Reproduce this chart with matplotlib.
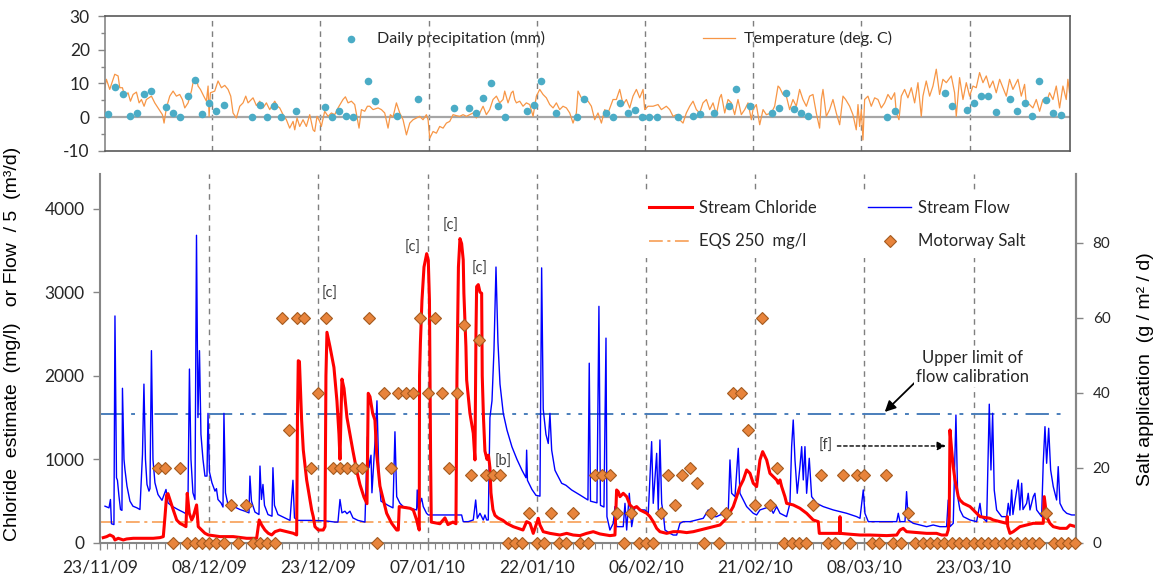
import matplotlib
matplotlib.use('Agg')
import matplotlib.pyplot as plt
import numpy as np

plt.rcParams['axes.unicode_minus'] = False
TICK_FONT = 'Lato'
LABEL_FONT = 'Liberation Sans'

# ---------------- data (x = days since 23/11/2009) ----------------
tick_days = [0, 15, 30, 45, 60, 75, 90, 105, 120]
tick_labels = ['23/11/09', '08/12/09', '23/12/09', '07/01/10', '22/01/10',
               '06/02/10', '21/02/10', '08/03/10', '23/03/10']

precip_day = [0, 1, 2, 3, 4, 5, 6, 8, 9, 10, 11, 12, 13, 14, 15, 16, 20, 21, 22, 23, 24, 26,
              30, 31, 32, 33, 34, 36, 37, 40, 43, 48, 50, 51, 52, 53, 54, 55, 58, 59, 60, 62,
              65, 66, 69, 70, 71, 72, 73, 74, 75, 76, 79, 81, 82, 84, 86, 87, 89, 92, 93, 94,
              95, 96, 97, 108, 109, 116, 117, 119, 120, 121, 122, 123, 125, 126, 127, 128,
              129, 130, 131, 132]
precip_mm = [0.9, 8.8, 6.7, 0.4, 1.2, 6.7, 7.6, 2.9, 1.2, 0.0, 6.1, 11.1, 1.0, 4.1, 1.9, 3.7,
             0.0, 3.6, 0.0, 3.2, 0.0, 1.9, 2.9, 0.0, 1.7, 0.2, 0.0, 10.6, 4.7, 0.2, 5.3, 2.7,
             2.7, 1.1, 5.7, 10.1, 3.4, 0.1, 1.8, 3.7, 10.7, 1.1, 0.1, 5.3, 1.3, 0.1, 4.1, 1.1,
             2.1, 0.1, 0.1, 0.1, 0.1, 0.3, 0.8, 1.2, 3.3, 8.4, 3.4, 1.2, 2.6, 7.1, 2.5, 1.2,
             0.4, 0.0, 1.9, 7.0, 3.3, 2.1, 4.1, 6.1, 6.1, 1.5, 5.3, 1.9, 4.1, 0.4, 10.6, 5.1,
             1.1, 0.5]

temp_day = [0.13, 0.36, 0.82, 1.52, 1.98, 2.21, 2.58, 2.9, 3.36, 3.69, 4.06, 4.52, 4.89, 5.21,
            5.58, 5.9, 6.6, 7.06, 7.66, 8.12, 8.35, 8.67, 9.14, 9.6, 10.06, 10.52, 10.89, 11.22,
            11.68, 12.14, 12.46, 12.83, 13.06, 13.39, 13.85, 14.22, 14.45, 14.59, 14.77, 15.37,
            15.83, 16.3, 16.76, 17.22, 17.59, 17.91, 18.37, 18.84, 19.3, 19.67, 19.99, 20.68,
            21.15, 21.61, 22.07, 22.53, 22.99, 23.69, 24.06, 24.38, 24.84, 25.3, 25.76, 26.23,
            26.46, 26.78, 27.15, 27.61, 28.07, 28.54, 29.0, 29.23, 29.55, 29.92, 30.15, 30.61,
            31.08, 31.54, 32.0, 32.46, 33.15, 33.48, 33.85, 34.31, 34.77, 35.37, 35.7, 36.16,
            36.53, 36.85, 37.31, 38.01, 38.47, 38.93, 39.39, 39.71, 40.08, 40.55,
            41.01, 41.47, 41.94, 42.4, 42.86, 43.32, 43.78, 44.24, 44.71, 44.94, 45.17, 45.63,
            46.09, 46.55, 47.02, 47.48, 47.94, 48.4, 48.86, 49.33, 49.79, 50.25, 50.71, 51.17,
            51.63, 52.1, 52.56, 53.02, 53.48, 53.94, 54.41, 54.87, 55.33, 55.56, 56.02, 56.48,
            56.72, 56.95, 57.18, 57.64, 58.1, 58.56, 59.03, 59.49, 59.95, 60.41, 60.87, 61.33,
            61.8, 62.26, 62.72, 63.18, 63.64, 64.11, 64.57, 65.03, 65.49, 65.72, 66.18, 66.65,
            67.11, 67.57, 68.03, 68.49, 68.96, 69.42, 69.88, 70.57, 71.03, 71.5, 71.96, 72.42,
            72.88, 73.34, 73.81, 74.27, 74.73, 74.96, 75.42, 76.12, 76.81, 77.27, 77.96, 78.43,
            78.89, 79.35, 79.81, 80.27, 80.73, 81.2, 81.66, 82.12, 82.58, 83.04, 83.51, 83.97,
            84.43, 84.89, 85.35, 85.58, 86.05, 86.51, 86.97, 87.43, 87.89, 88.35, 88.82, 89.28,
            89.74, 89.97, 90.43, 90.9, 91.36, 91.82, 92.51, 92.97, 93.44,
            93.66, 94.12, 94.59, 95.05, 95.51, 95.97, 96.43, 96.89, 97.36, 97.82, 98.28, 98.74,
            99.2, 99.44, 99.67, 100.13, 100.59, 101.05, 101.51, 101.98, 102.44, 102.81, 103.36,
            103.82, 104.28, 104.52, 104.75, 104.98, 105.21, 105.44, 105.9, 106.36, 106.83,
            107.29, 107.75, 108.21, 108.67, 109.13, 109.6, 109.83, 110.2, 110.52, 110.98,
            111.44, 111.91, 112.37, 112.83, 113.29, 113.52, 113.98, 114.45, 114.91, 115.37,
            115.83, 116.29, 116.76, 117.45, 117.91, 118.14, 118.6, 119.07, 119.53, 119.99,
            120.45, 120.91, 121.37, 121.84, 122.3, 122.76, 123.22, 123.68, 124.15, 124.61,
            125.07, 125.53, 125.99, 126.69, 127.15, 127.61, 127.84, 128.3, 128.76, 129.23,
            129.69, 130.15, 130.61, 131.07, 131.54, 132.0, 132.46, 132.92, 133.38, 133.61, 133.84]
temp_c = [8.7, 11.2, 8.2, 12.7, 12.2, 8.7, 8.7, 6.2, 7.2, 4.7, 6.7, 7.4, 4.2, 5.2,
          3.2, 5.2, 6.2, 4.2, 2.2, 0.7, -1.8, 2.7, 6.2, 7.7, 6.2, 6.7, 5.2, 2.7,
          4.2, 7.7, 11.2, 11.7, 9.2, 8.2, 6.2, 4.7, 9.2, 0.2, 7.2, 7.7,
          10.7, 8.7, 9.4, 8.2, 6.2, 1.2, -0.3, 3.2, 4.2, 6.2, 4.2, 5.7,
          3.4, 4.7, 2.7, 4.2, 2.2, 4.7, 3.2, 2.7, 0.7, -0.8, -3.3, -1.3,
          -3.8, -0.3, -2.8, -0.8, -2.8, 0.7, -3.8, -4.3, 0.2, -1.3, -2.8, 1.7,
          0.2, 1.2, 0.7, 2.7, 5.2, 6.0, 4.2, 4.7, 3.7, -3.3, 2.2, 1.7,
          3.2, 3.2, 2.2, 2.7, 2.2, 1.2, -3.3, 0.7, 0.0, 4.2,
          1.2, -0.8, -5.3, -1.8, -0.8, -0.3, 0.2, -0.8, 0.7, -0.8, -6.3, -4.3,
          -4.8, -2.8, -3.3, -1.8, -1.3, 0.7, 0.4, 0.2, 0.7, 0.2, 0.7, 1.2,
          -0.3, 1.2, 3.2, 0.7, 2.2, 5.2, 6.2, 4.2, 5.2, 7.7, 4.2, 7.2,
          7.7, 5.2, 4.2, 4.7, 3.2, 4.2, 3.7, 0.2, 6.2, 8.2, 6.7, 5.7,
          3.7, 2.7, 4.2, 2.2, 3.2, 2.7, 1.2, -1.8, 1.2, 7.7, 5.7, 5.2,
          4.7, 3.2, -0.8, 1.2, -1.8, 2.2, 1.2, 5.2, 5.2, 8.2, 3.7, 5.2,
          2.7, 6.2, 8.2, 5.7, 8.2, 2.2, 3.2, 3.2, 3.7, 2.2, 3.2, 2.2,
          0.2, 0.7, -0.8, -1.8, 1.2, 3.2, 4.7, 2.2, 1.2, 4.2, 5.2, 2.2,
          4.2, 0.7, 5.7, 6.7, 1.2, 5.2, 4.2, 0.7, 5.2, 0.7, 2.2, 4.2,
          -0.8, 2.2, 3.7, -2.3, 2.2, 0.7, 1.2, 3.2, 9.2,
          8.7, 6.7, 6.2, 2.2, 5.2, 3.2, 8.2, 5.2, 3.2, 6.2, 6.7, 1.2,
          -3.3, 5.2, 8.2, 0.2, 2.2, 5.2, 1.2, -2.3, 6.2, 5.2, 3.2,
          0.7, -3.8, 3.7, -2.8, 2.2, -6.8, 5.2, 6.2, 3.2, 5.7,
          5.2, 2.7, 4.2, 6.7, 5.2, 7.2, 1.2, -0.8, 6.2, 8.2,
          5.7, 8.7, 4.2, 10.2, 0.2, 6.2, 10.7, 6.2, 9.2, 14.2,
          6.7, 11.2, 10.2, 12.2, 7.2, 0.2, 11.7, 5.2, 10.2, 6.2,
          9.2, 8.7, 13.2, 10.2, 12.2, 8.7, 10.7, 7.2, 11.2, 8.7,
          6.2, 11.2, 8.2, 11.2, 6.2, 9.7, 4.2, 3.7, 2.7, 5.2,
          1.7, 5.2, 4.2, 7.2, 5.2, 9.2, 2.7, 9.2, 5.2, 11.2, 7.2]

flow_day = [0.69, 1.24, 1.44, 1.58, 1.92, 2.06, 2.27, 2.40, 2.61, 2.82, 3.02, 3.09, 3.30, 3.43,
            3.71, 4.12, 4.53, 5.08, 5.49, 5.84, 6.04, 6.25, 6.46, 6.73, 6.87, 7.07, 7.28, 7.55,
            7.97, 8.52, 9.07, 9.34, 9.89, 10.71, 11.40, 11.81, 12.09, 12.29, 12.50, 12.77,
            13.05, 13.26, 13.46, 13.67, 13.87, 14.15, 14.42, 14.70, 14.84, 15.04, 15.38, 15.80,
            16.00, 16.21, 16.62, 16.90, 17.03, 17.24, 17.58, 18.27, 19.23, 19.92, 20.47, 20.60,
            20.81, 21.29, 21.84, 21.98, 22.18, 22.39, 22.60, 23.08, 23.63, 23.76, 23.97, 24.45,
            25.41, 26.10, 26.51, 26.72, 27.20, 28.85, 30.91, 32.28, 32.69, 32.97, 33.24, 33.65,
            33.93, 34.34, 34.75, 35.44, 36.40, 36.74, 36.95, 37.23, 37.36, 37.64, 37.84, 38.05,
            38.32, 38.60, 39.01, 39.56, 40.25, 40.52, 40.76, 41.21, 41.66, 42.58, 43.50, 43.58,
            43.72, 44.19, 44.41, 44.86, 45.10, 49.68, 49.90, 50.59, 51.28, 51.61, 51.83, 52.20,
            52.43, 52.65, 52.88, 53.12, 53.34, 53.57, 53.85, 54.12, 54.40, 54.67, 54.95, 55.40,
            55.91, 56.59, 57.28, 57.97, 58.52, 58.61, 58.72, 59.34, 59.89, 60.44, 60.67, 60.89,
            61.26, 61.58, 61.81, 62.05, 62.50, 62.73, 63.42, 64.01, 64.79, 65.93, 67.03, 67.21,
            67.38, 68.27, 68.54, 68.75, 69.23, 69.51, 69.64, 70.05, 70.51, 70.74, 70.97, 71.88,
            72.12, 72.35, 72.71, 73.04, 73.49, 74.18, 74.86, 75.32, 75.78, 76.00, 76.47, 76.69,
            76.92, 77.16, 77.38, 77.61, 78.30, 78.75, 79.22, 79.67, 80.12, 81.04, 81.96, 82.87,
            83.56, 83.79, 84.71, 85.16, 86.30, 86.54, 86.77, 87.23, 87.68, 87.91, 88.37, 88.83,
            89.29, 89.74, 90.20, 90.66, 92.03, 92.49, 92.95, 93.41, 94.32, 94.78, 95.01, 95.23,
            95.47, 95.78, 96.15, 96.39, 96.61, 96.84, 97.07, 97.43, 97.76, 98.45, 99.35, 100.73,
            101.65, 102.57, 103.94, 104.40, 104.85, 105.08, 105.54, 109.44, 109.66, 109.89,
            110.58, 110.80, 111.03, 111.72, 112.64, 113.56, 114.46, 115.38, 116.30, 116.52,
            116.76, 117.21, 117.58, 117.82, 118.13, 118.59, 119.51, 120.42, 120.88, 121.11,
            121.80, 122.16, 122.39, 122.62, 122.84, 123.17, 123.86, 124.55, 124.77, 125.00,
            125.23, 125.41, 126.14, 126.37, 126.61, 126.79, 127.29, 127.51, 127.75, 128.20,
            128.43, 128.67, 129.35, 129.57, 129.81, 130.04, 130.32, 130.59, 130.95, 131.41,
            131.63, 131.87, 132.32, 132.79, 133.48, 134.07]
flow_val = [440, 420, 520, 230, 220, 2715, 780, 750, 560, 400, 390, 1850, 1000, 880,
            680, 500, 440, 420, 400, 1060, 1900, 1000, 700, 620, 650, 2300, 1000, 720,
            580, 510, 640, 480, 440, 400, 370, 350, 500, 2080, 1000, 600,
            520, 3680, 1500, 2300, 1300, 1000, 800, 800, 1550, 850, 720, 620,
            650, 520, 480, 430, 1550, 600, 460, 440, 400, 380, 360, 800,
            500, 370, 340, 920, 520, 700, 450, 340, 320, 900, 450, 340,
            300, 270, 750, 300, 270, 270, 265, 250, 250, 520, 360, 380,
            350, 380, 300, 270, 250, 1270, 900, 1050, 600, 1000, 1300, 1700,
            800, 500, 480, 450, 420, 1330, 554, 474, 435, 415, 395, 634,
            415, 534, 435, 355, 335, 335, 255, 255, 275, 514, 295, 355,
            315, 275, 335, 275, 275, 1500, 1700, 2300, 3300, 2400, 1900, 1550,
            1350, 1150, 1000, 870, 780, 1110, 750, 640, 570, 560, 3290, 1600,
            1300, 1190, 1550, 1110, 870, 830, 714, 690, 634, 574, 514, 2150,
            500, 480, 2830, 450, 430, 2450, 315, 155, 235, 435, 195, 195,
            474, 155, 594, 195, 435, 395, 395, 355, 1212, 474, 1072, 395,
            1232, 474, 355, 155, 115, 95, 95, 235, 255, 255, 275, 295,
            395, 315, 315, 335, 355, 993, 594, 554, 1132, 594, 514, 435,
            395, 355, 335, 395, 435, 355, 435, 355, 315, 474, 1152, 1471,
            993, 594, 913, 1152, 754, 1152, 594, 1013, 554, 474, 435, 395,
            375, 355, 315, 295, 634, 355, 255, 255, 355, 255,
            255, 614, 275, 235, 215, 195, 215, 195, 195, 514,
            195, 235, 1530, 554, 395, 315, 275, 255, 474, 315,
            255, 1660, 873, 1551, 634, 395, 315, 315, 474, 330,
            634, 340, 754, 395, 714, 400, 474, 594, 395, 554,
            594, 395, 315, 953, 1391, 953, 1372, 873, 674, 514,
            913, 474, 395, 355, 335, 335]

chloride_day = [0.45, 0.92, 1.37, 1.83, 2.06, 2.51, 3.20, 3.67, 4.57, 5.95, 7.32, 8.24, 8.70,
                8.93, 9.16, 9.34, 9.62, 10.07, 10.54, 10.99, 11.44, 11.81, 11.99, 12.27, 12.60,
                12.82, 13.27, 13.50, 13.97, 14.42, 14.88, 15.56, 16.48, 18.31, 20.15, 21.52,
                21.87, 22.21, 22.66, 23.12, 23.59, 24.04, 24.73, 25.65, 26.55, 27.02, 27.13,
                27.24, 27.40, 27.70, 27.93, 28.39, 28.85, 29.08, 29.30, 29.53, 29.99, 30.67,
                30.91, 31.04, 31.18, 31.59, 32.14, 32.55, 32.83, 32.97, 33.10, 33.24, 33.52,
                33.93, 34.34, 34.75, 35.30, 35.71, 36.26, 36.68, 36.85, 37.09, 37.46, 37.77,
                38.01, 38.46, 39.38, 40.07, 40.76, 40.98, 41.11, 42.58, 43.04, 43.50, 43.72,
                43.86, 43.90, 44.02, 44.23, 44.51, 44.88, 45.10, 45.26, 45.33, 45.42, 45.51,
                46.70, 47.39, 47.80, 48.49, 48.90, 49.04, 49.24, 49.45, 49.68, 49.90, 49.99,
                50.27, 50.37, 50.82, 51.28, 51.51, 51.65, 51.74, 51.97, 52.20, 52.43, 52.51,
                52.68, 52.88, 53.16, 53.37, 53.57, 53.71, 53.98, 54.26, 54.67, 55.36, 55.86,
                56.77, 58.11, 58.61, 59.07, 59.52, 60.21, 60.44, 60.89, 61.81, 63.19, 64.11,
                65.01, 65.93, 66.85, 67.76, 68.68, 70.05, 70.74, 70.97, 71.19, 71.43, 71.88,
                72.35, 72.80, 73.26, 73.72, 74.18, 75.10, 75.55, 76.00, 76.47, 76.92, 77.84,
                78.75, 79.67, 80.59, 81.50, 82.42, 83.34, 84.25, 85.16, 86.08, 86.99, 87.46,
                87.91, 88.37, 88.83, 89.29, 89.74, 90.20, 90.66, 91.03, 91.58, 92.03, 92.49,
                92.95, 93.17, 93.41, 93.64, 94.09, 94.32, 95.23, 96.15, 97.07, 97.98, 98.67,
                98.81, 99.82, 101.19, 101.58, 101.65, 101.72, 102.57, 104.40, 105.77, 108.06,
                109.44, 109.89, 110.34, 110.80, 111.72, 113.56, 114.92, 115.62, 116.30, 116.52,
                116.66, 116.76, 116.99, 117.21, 117.45, 117.90, 118.13, 118.59, 119.51, 120.42,
                120.88, 122.25, 122.71, 123.63, 124.55, 124.63, 124.70, 125.00, 125.45, 126.37,
                127.29, 128.20, 129.57, 129.71, 130.04, 130.49, 130.95, 131.87, 132.79, 133.24,
                134.07]
chloride_val = [64, 76, 96, 76, 36, 56, 36, 48, 56, 56, 56, 64, 76,
                315, 574, 590, 514, 395, 275, 235, 215, 195, 594, 355, 275,
                315, 455, 195, 155, 116, 96, 88, 76, 76, 56, 56,
                275, 215, 155, 116, 96, 135, 155, 135, 116, 96, 1500,
                2180, 2170, 1471, 1112, 754, 514, 395, 315, 195, 155, 155,
                195, 2000, 2520, 2350, 2100, 1700, 1300, 1000, 1500, 1960, 1850,
                1500, 1300, 1100, 850, 700, 550, 470, 1790, 1750, 1550, 1470,
                1070, 680, 355, 235, 155, 155, 435, 415, 395, 275, 195,
                155, 2000, 2400, 2900, 3300, 3460, 3380, 2900, 2000, 1000, 250,
                230, 300, 220, 250, 230, 2000, 3300, 3640, 3580, 3385, 2986,
                2348, 1950, 1550, 1312, 993, 2500, 3066, 3090, 3000, 2986, 2000,
                1500, 1100, 1000, 1050, 900, 600, 400, 330, 300, 270, 235,
                195, 155, 255, 235, 115, 295, 215, 135, 115, 95, 115,
                95, 88, 115, 135, 108, 88, 95, 634, 614, 554, 594,
                554, 455, 415, 435, 395, 355, 315, 255, 175, 135, 115,
                135, 135, 124, 135, 155, 175, 195, 215, 295, 435, 554,
                674, 754, 873, 833, 714, 674, 993, 1092, 993, 833, 794,
                754, 714, 754, 674, 554, 474, 455, 415, 355, 275, 255,
                115, 115, 115, 115, 315, 115, 108, 95, 95, 88,
                95, 155, 175, 135, 128, 115, 115, 95, 95, 155,
                315, 1352, 1112, 913, 754, 554, 514, 474, 435, 355,
                315, 295, 275, 255, 235, 315, 200, 115, 135, 195,
                215, 235, 235, 554, 315, 235, 195, 175, 175, 215,
                195]

salt_day = list(range(8, 135))
salt_rate = [20, 20, 0, 20, 0, 0, 0, 0, 0, 0, 10, 0, 10, 0, 0, 0, 0,          # 8-24
             60, 30, 60, 60, 20, 40, 60, 20, 20, 20, 20, 20, 60, 0,           # 25-38
             40, 20, 40, 40, 40, 60, 40, 60, 40, 20, 40, 58, 18, 54, 18, 18, 18,  # 39-55
             0, 0, 0, 8, 0, 0, 8, 0, 0, 8, 0, 0, 18, 18, 18, 8, 0, 8, 0, 0, 0,  # 56-76
             8, 18, 10, 18, 20, 16, 0, 8, 0, 8, 40, 40, 30, 10, 60, 10, 20,   # 77-93
             0, 0, 0, 0, 10, 18, 0, 0, 18, 0, 18, 18, 0, 0, 18, 0, 0, 8,      # 94-111
             0, 0, 0, 0, 0, 0, 0, 0, 0, 0, 0, 0, 0, 0, 0, 0, 0, 0,            # 112-129
             8, 0, 0, 0, 0]                                                   # 130-134

eqs_level = 250
flow_cal_limit = 1540

# ---------------- figure ----------------
fig = plt.figure(figsize=(11.53, 5.78), dpi=100)
ax_t = fig.add_axes([0.0911, 0.7393, 0.8369, 0.2330])
ax = fig.add_axes([0.0867, 0.0606, 0.8465, 0.6384])
ax2 = ax.twinx()

GRID_C = '#7f7f7f'
SPINE_C = '#868686'
TXT_C = '#262626'
YMAX_L = 4413
YMAX_R = 98.4

# ---- top panel ----
for d in tick_days[1:]:
    ax_t.axvline(d, color=GRID_C, lw=1, ls=(0, (4, 3.5)), zorder=1)
ax_t.axhline(0, color='#a6a6a6', lw=1.6, zorder=1)
tl, = ax_t.plot(temp_day, temp_c, color='#f79646', lw=0.9, zorder=2,
                label='Temperature (deg. C)')
pp = ax_t.scatter(np.array(precip_day) + 0.6, precip_mm, s=30, color='#4bacc6',
                  zorder=3, label='Daily precipitation (mm)', linewidths=0)
ax_t.set_xlim(0.17, 133.9)
ax_t.set_ylim(-10, 30)
ax_t.set_yticks([-10, 0, 10, 20, 30])
ax_t.set_yticks([-5, 5, 15, 25], minor=True)
ax_t.set_xticks([])
for s in ax_t.spines.values():
    s.set_color('#595959')
    s.set_linewidth(1.2)
ax_t.spines['left'].set_color(SPINE_C)
ax_t.tick_params(axis='y', which='major', length=5, width=1, color=SPINE_C,
                 labelsize=12.5, pad=6, labelcolor=TXT_C)
ax_t.tick_params(axis='y', which='minor', length=3, width=1, color=SPINE_C)
for lab in ax_t.get_yticklabels():
    lab.set_fontfamily(TICK_FONT)
leg_t = ax_t.legend(handles=[pp, tl], loc='upper left', ncol=2, frameon=False,
                    bbox_to_anchor=(0.222, 1.005), handlelength=2.0,
                    handletextpad=0.6, columnspacing=9.9, borderaxespad=0.6,
                    prop={'family': TICK_FONT, 'size': 11.5})
for t in leg_t.get_texts():
    t.set_color(TXT_C)

# ---- bottom panel ----
for d in tick_days[1:]:
    ax.axvline(d, color=GRID_C, lw=1, ls=(0, (4, 3.5)), zorder=1)
eqs_line = ax.axhline(eqs_level, xmax=0.985, color='#f79646', lw=1.1,
                      ls=(0, (9, 3, 2, 3)), zorder=2, label='EQS 250  mg/l')
ax.axhline(flow_cal_limit, xmax=0.985, color='#4a7ebb', lw=1.4,
           ls=(0, (12, 4, 2, 4, 2, 4)), zorder=2)
fl, = ax.plot(flow_day, flow_val, color='#0000ff', lw=1.0, zorder=3, label='Stream Flow')
cl, = ax.plot(chloride_day, chloride_val, color='#ff0000', lw=2.2, zorder=4,
              label='Stream Chloride')

ax.set_xlim(0, 134.07)
ax.set_ylim(0, YMAX_L)
ax.set_yticks([0, 1000, 2000, 3000, 4000])
ax.set_xticks(tick_days)
ax.set_xticklabels(tick_labels)
ax.set_xticks(np.arange(0, 135, 1), minor=True)
ax.spines['top'].set_visible(False)
for k in ['left', 'bottom', 'right']:
    ax.spines[k].set_color(SPINE_C)
    ax.spines[k].set_linewidth(1.5)
ax.tick_params(axis='y', length=5, width=1, color=SPINE_C, labelsize=12.5, pad=6,
               labelcolor=TXT_C)
ax.tick_params(axis='x', which='major', length=5, width=1, color=SPINE_C,
               labelsize=12.5, pad=7, labelcolor=TXT_C)
ax.tick_params(axis='x', which='minor', length=4, width=0.8, color=SPINE_C)
for lab in ax.get_xticklabels() + ax.get_yticklabels():
    lab.set_fontfamily(TICK_FONT)

ax.set_ylabel('Chloride  estimate  (mg/l)   or Flow  / 5  (m\u00b3/d)',
              fontfamily=LABEL_FONT, fontsize=14, color='black')
ax.yaxis.set_label_coords(-0.081, 0.54)

sm, = ax2.plot(salt_day, salt_rate, ls='none', marker='D', ms=6.2,
               mfc='#e8843c', mec='#a45a1f', mew=0.8, zorder=5, clip_on=False,
               label='Motorway Salt')
ax2.set_ylim(0, YMAX_R)
ax2.set_yticks([0, 20, 40, 60, 80])
for k in ['left', 'bottom', 'top']:
    ax2.spines[k].set_visible(False)
ax2.spines['right'].set_color(SPINE_C)
ax2.spines['right'].set_linewidth(1.5)
ax2.tick_params(axis='y', length=5, width=1, color=SPINE_C, labelsize=11, pad=7,
                labelcolor=TXT_C)
for lab in ax2.get_yticklabels():
    lab.set_fontfamily(TICK_FONT)
ax2.set_ylabel('Salt application  (g / m\u00b2 / d)', fontfamily=LABEL_FONT,
               fontsize=14, color='black')
ax2.yaxis.set_label_coords(1.0625, 0.47)

leg = ax2.legend(handles=[cl, eqs_line, fl, sm], ncol=2, loc='upper left',
                 bbox_to_anchor=(0.545, 0.975), frameon=True, framealpha=1,
                 edgecolor='none', facecolor='white', handlelength=2.6,
                 handletextpad=0.4, columnspacing=3.1, labelspacing=1.05,
                 borderpad=0.5, fancybox=False,
                 prop={'family': TICK_FONT, 'size': 12})
leg.set_zorder(20)
for t in leg.get_texts():
    t.set_color(TXT_C)


def left_to_right(v):
    return v / YMAX_L * YMAX_R


# annotations
ann_kw = dict(fontsize=10.5, color='#404040', ha='center', va='center', fontfamily=TICK_FONT)
ax2.text(31.6, left_to_right(2978), '[c]', **ann_kw)
ax2.text(42.9, left_to_right(3528), '[c]', **ann_kw)
ax2.text(48.1, left_to_right(3791), '[c]', **ann_kw)
ax2.text(52.1, left_to_right(3277), '[c]', **ann_kw)
ax2.text(55.4, left_to_right(969), '[b]', **ann_kw)
ax2.text(99.7, left_to_right(1160), '[f]', **ann_kw)
ax.annotate('', xy=(116.2, 1160), xytext=(101.3, 1160),
            arrowprops=dict(arrowstyle='-|>', ls=(0, (2.5, 2)), color='black', lw=1,
                            mutation_scale=13, shrinkA=0, shrinkB=0), zorder=6)
ax2.text(119.9, left_to_right(2100), 'Upper limit of\nflow calibration', fontsize=12,
         color='#262626', ha='center', va='center', fontfamily=TICK_FONT, linespacing=1.25,
         bbox=dict(facecolor='white', edgecolor='none', pad=1.5), zorder=7)
ax.annotate('', xy=(107.8, 1567), xytext=(112.3, 1950),
            arrowprops=dict(arrowstyle='-|>', color='black', lw=1.3,
                            mutation_scale=16, shrinkA=0, shrinkB=0), zorder=6)

fig.savefig('out.png', dpi=100)
